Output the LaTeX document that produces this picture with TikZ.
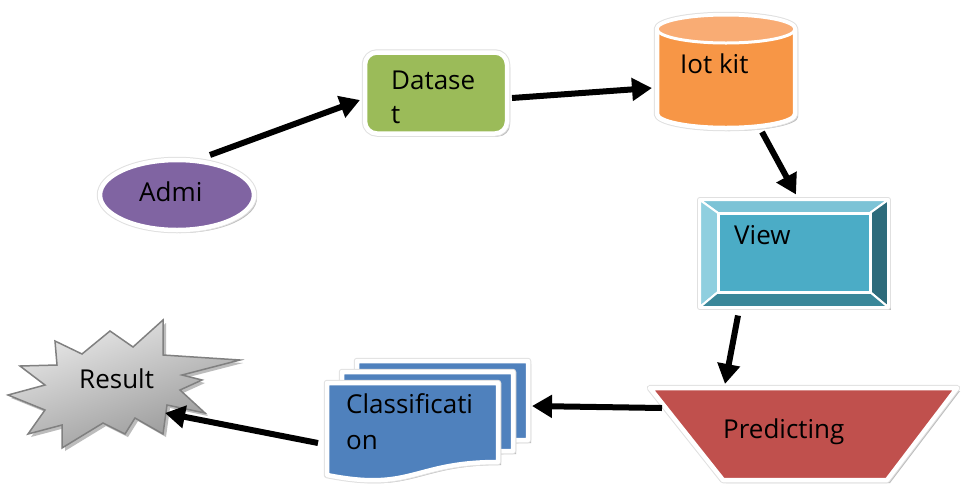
\documentclass[tikz,border=0pt]{standalone}
\usepackage{fontspec}
\setmainfont{Open Sans}
\usetikzlibrary{arrows.meta,shapes.geometric,shadows,calc}
\definecolor{admicol}{HTML}{8064A2}
\definecolor{dscol}{HTML}{9BBB59}
\definecolor{iotcol}{HTML}{F79646}
\definecolor{iottop}{HTML}{F9AC74}
\definecolor{viewcol}{HTML}{4BACC6}
\definecolor{viewtop}{HTML}{7CC3D6}
\definecolor{viewleft}{HTML}{8FCFDF}
\definecolor{viewright}{HTML}{2D6B7B}
\definecolor{viewbot}{HTML}{3A8799}
\definecolor{predcol}{HTML}{C0504D}
\definecolor{clscol}{HTML}{4F81BD}
\newcommand{\mydocshape}[2]{\path[fill=clscol, shade, frame] (#1,#2) -- ++(171,0) -- ++(0,79) .. controls +(-85.5,0) and +(85.5,17) .. ++(-171,13) -- cycle;}
\begin{document}
\begin{tikzpicture}[x=1pt,y=-1pt,
  frame/.style={draw=white,line width=4.5pt,line join=round,preaction={draw=black!12,line width=6.5pt,line join=round}},
  shade/.style={drop shadow={shadow xshift=3pt,shadow yshift=-3pt,opacity=0.4,fill=black!65}},
  lbl/.style={anchor=base west,inner sep=0pt,font=\fontsize{26pt}{30pt}\selectfont},
  anchorbox/.style={inner sep=0pt,outer sep=0pt},
  arr/.style={line width=6pt,-{Triangle[length=20pt,width=22pt]}}]
\useasboundingbox[fill=white] (0,0) rectangle (966,491);

% Admi
\node[ellipse,minimum width=154pt,minimum height=70pt,fill=admicol,shade,frame] (admi) at (177,195) {};
\node[lbl] (admit) at (139,201) {Admi};

% Dataset
\node[rectangle,rounded corners=12pt,minimum width=142pt,minimum height=81pt,fill=dscol,shade,frame] (dataset) at (436,93) {};
\node[lbl] (dst1) at (391,89) {Datase};
\node[lbl] (dst2) at (391,123) {t};

% Iot kit cylinder
\path[fill=iotcol,shade,frame] (657,29) -- (657,114) arc[start angle=180,end angle=360,x radius=69pt,y radius=14pt] -- (795,29) arc[start angle=0,end angle=180,x radius=69pt,y radius=14pt] -- cycle;
\path[fill=iottop,draw=white,line width=3pt] (726,29) ellipse[x radius=69pt,y radius=14pt];
\node[anchorbox,minimum width=138pt,minimum height=114pt] (iot) at (726,72) {};
\node[lbl] (iott) at (680,73) {Iot kit};

% View bevel
\node[rectangle,minimum width=188pt,minimum height=107pt,fill=viewcol,shade,frame] (view) at (794,253.5) {};
\path[fill=viewtop,draw=white,line width=2pt,line join=round] (700,200) -- (888,200) -- (870,213) -- (718,213) -- cycle;
\path[fill=viewleft,draw=white,line width=2pt,line join=round] (700,200) -- (718,213) -- (718,292) -- (700,307) -- cycle;
\path[fill=viewright,draw=white,line width=2pt,line join=round] (888,200) -- (888,307) -- (870,292) -- (870,213) -- cycle;
\path[fill=viewbot,draw=white,line width=2pt,line join=round] (700,307) -- (888,307) -- (870,292) -- (718,292) -- cycle;
\path[fill=viewcol,draw=white,line width=3pt] (718,213) rectangle (870,292);
\node[lbl] (viewt) at (734,244) {View};

% Predicting
\path[fill=predcol,shade,frame] (650,388) -- (957,388) -- (887,480) -- (723,480) -- cycle;
\node[anchorbox,minimum width=160pt,minimum height=92pt] (pred) at (804,434) {};
\node[lbl] (predt) at (723,438) {Predicting};

% Classification multidocument
\mydocshape{357}{361}
\mydocshape{342}{372}
\mydocshape{327}{383}
\node[anchorbox,minimum width=171pt,minimum height=96pt] (cls) at (412,430) {};
\node[lbl] (clst1) at (346,413) {Classificati};
\node[lbl] (clst2) at (346,449) {on};

% Result starburst
\path[shade,draw=black!50,line width=1.5pt,line join=miter,shading=axis,top color=black!8,bottom color=black!42,shading angle=20]
  (8,395) -- (45,385) -- (20,366) -- (57,365) -- (55,341) -- (82,354) -- (110,331) -- (133,347) -- (163,320) -- (163,355)
  -- (240,360) -- (182,375) -- (202,380) -- (180,390) -- (205,413) -- (167,405) -- (163,434) -- (135,418) -- (125,434)
  -- (103,423) -- (62,448) -- (62,425) -- (28,434) -- (45,410) -- cycle;
\node[anchorbox,minimum width=120pt,minimum height=80pt] (result) at (118,382) {};
\node[lbl] (resultt) at (79,388) {Result};

% Connectors
\draw[arr] ($(admi.center)+(33,-40)$) -- ($(dataset.center)+(-76,7)$);
\draw[arr] ($(dataset.center)+(76,5)$) -- ($(iot.center)+(-74,16)$);
\draw[arr] ($(iot.center)+(36,60)$) -- ($(view.center)+(2,-59)$);
\draw[arr] ($(view.center)+(-56,62)$) -- ($(pred.center)+(-79,-50)$);
\draw[arr] ($(pred.center)+(-142,-26)$) -- ($(cls.center)+(120,-24)$);
\draw[arr] ($(cls.center)+(-94,13)$) -- ($(result.center)+(47,31)$);
\end{tikzpicture}
\end{document}
